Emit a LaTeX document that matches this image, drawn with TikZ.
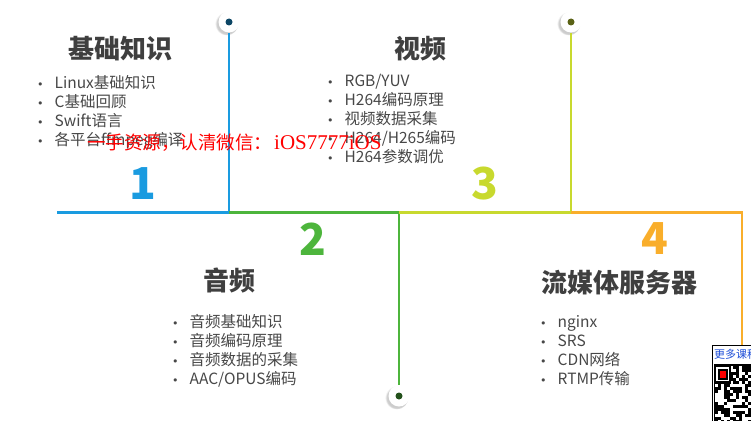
\documentclass[tikz,border=0pt]{standalone}
\usepackage{fontspec}
\setmainfont{Noto Sans CJK SC}
\newfontfamily\markfont{Liberation Serif}
\newfontfamily\dotfont{DejaVu Sans}
\usetikzlibrary{shadows}

\definecolor{lineblue}{HTML}{1A9BE0}
\definecolor{linegreen}{HTML}{4DB53C}
\definecolor{lineyellow}{HTML}{C8D92E}
\definecolor{lineorange}{HTML}{F9AE2B}
\definecolor{titlegray}{HTML}{3F3F3F}
\definecolor{textgray}{HTML}{474747}
\definecolor{qrblue}{HTML}{1F4FD8}

\newcommand{\bul}{{\dotfont\fontsize{11}{11}\selectfont •}\hspace{11pt}}

\begin{document}
\begin{tikzpicture}[x=1pt,y=-1pt,
    title/.style={font=\fontsize{26}{30}\selectfont\bfseries,text=titlegray,inner sep=0pt},
    items/.style={font=\fontsize{15.5}{19}\selectfont,text=textgray,align=left,anchor=north west,inner sep=0pt},
    num/.style={font=\fontsize{44}{44}\selectfont\bfseries,inner sep=0pt},
    pin/.style={circle,fill=white,minimum size=21pt,inner sep=0pt,
      circular drop shadow={shadow xshift=-2pt,shadow yshift=-1.5pt,shadow scale=1.12,opacity=.4}},
    pindot/.style={circle,minimum size=7pt,inner sep=0pt},
    main/.style={line width=3pt},
    stem/.style={line width=2pt}]
        \begin{scope}
          \useasboundingbox (0,0) rectangle (751,420);

          % time line
          \coordinate (start) at (57,212);
          \coordinate (j1) at (229,212);
          \coordinate (j2) at (399,212);
          \coordinate (j3) at (571,212);
          \coordinate (j4) at (742,212);
          \coordinate (tail) at (742,352);

          \node (pin1) at (229,22) [pin]{};
          \node (pin2) at (399,396) [pin]{};
          \node (pin3) at (571,22) [pin]{};
          \node (dot1) at (pin1) [pindot,fill=lineblue!45!black]{};
          \node (dot2) at (pin2) [pindot,fill=linegreen!45!black]{};
          \node (dot3) at (pin3) [pindot,fill=lineyellow!45!black]{};

          \draw[stem,lineblue] (j1) -- (pin1);
          \draw[stem,linegreen] (j2) -- (pin2);
          \draw[stem,lineyellow] (j3) -- (pin3);
          \draw[stem,lineorange] (j4) -- (tail);
          \draw[main,lineblue] (start) -- (j1);
          \draw[main,linegreen] (j1) -- (j2);
          \draw[main,lineyellow] (j2) -- (j3);
          \draw[main,lineorange] (j3) -- ([xshift=1pt]j4);

          % numbers
          \node (n1) at (143,184) [num,text=lineblue]{1};
          \node (n2) at (313,239) [num,text=linegreen]{2};
          \node (n3) at (485,184) [num,text=lineyellow]{3};
          \node (n4) at (655,239) [num,text=lineorange]{4};

          % titles and lists
          \node (t1) at (120,49) [title]{基础知识};
          \node (t2) at (229,281) [title]{音频};
          \node (t3) at (420,49) [title]{视频};
          \node (t4) at (619,283) [title]{流媒体服务器};

          \node (l1) at (37,75) [items]{\bul Linux基础知识\\ \bul C基础回顾\\ \bul Swift语言\\ \bul 各平台ffmpeg编译};
          \node (l2) at (172,314) [items]{\bul 音频基础知识\\ \bul 音频编码原理\\ \bul 音频数据的采集\\ \bul AAC/OPUS编码};
          \node (l3) at (327,74) [items]{\bul RGB/YUV\\ \bul H264编码原理\\ \bul 视频数据采集\\ \bul H264/H265编码\\ \bul H264参数调优};
          \node (l4) at (540,315) [items]{\bul nginx\\ \bul SRS\\ \bul CDN网络\\ \bul RTMP传输};

          % watermark
          \node (mark) at (87,143) [anchor=west,inner sep=0pt,text=red,font=\fontsize{18.5}{19}\selectfont]{一手资源，认清微信：\hspace{2pt}{\markfont\fontsize{21}{21}\selectfont iOS7777iOS}};

          % qr corner
          \draw[fill=white,line width=1pt] (712,345) rectangle (760,430);
          \node (more) at (714,354) [anchor=west,inner sep=0pt,text=qrblue,font=\fontsize{11}{11}\selectfont]{更多课程};
          \fill[black] (714,364) rectangle (760,430);
          \pgfmathsetseed{11}
          \foreach \i in {0,...,12}{
            \foreach \j in {0,...,18}{
              \pgfmathrandominteger{\r}{0}{1}
              \ifnum\r=1
                \fill[white] (715+3*\i,366+3*\j) rectangle +(3,3);
              \fi
            }
          }
          \fill[black] (714,364) rectangle (731,384);
          \fill[white] (716,367) rectangle (729,381);
          \fill[black] (717.5,368.5) rectangle (727.5,379.5);
          \fill[red] (719.5,370.5) rectangle (725.5,377.5);

        \end{scope}
        \end{tikzpicture}
\end{document}
